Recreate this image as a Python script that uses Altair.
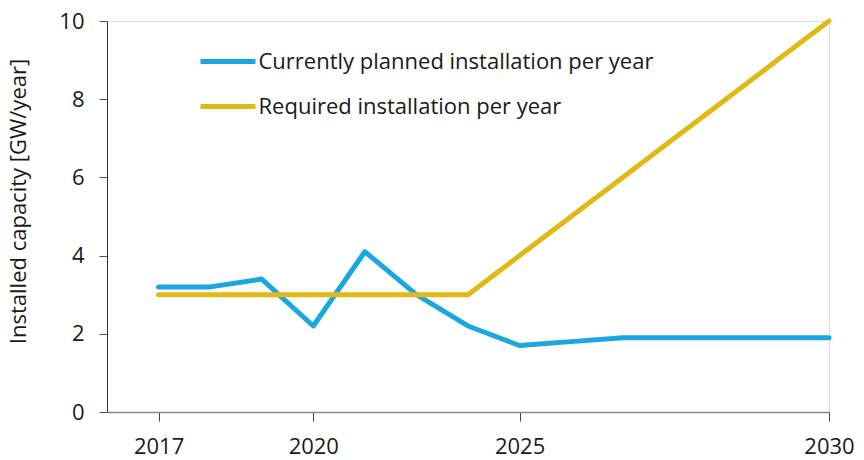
import altair as alt
import pandas as pd

# x positions are evenly spaced steps; only four of them carry a label
steps = list(range(14))
planned = [3.2, 3.2, 3.4, 2.2, 4.1, 3.0, 2.2, 1.7, 1.8, 1.9, 1.9, 1.9, 1.9, 1.9]
required = [3.0, 3.0, 3.0, 3.0, 3.0, 3.0, 3.0, 4.0, 5.0, 6.0, 7.0, 8.0, 9.0, 10.0]
tick_steps = [0, 3, 7, 13]
tick_labels = ["2017", "2020", "2025", "2030"]
series_names = ["Currently planned installation per year", "Required installation per year"]
series_colors = ["#1aa7e0", "#e2b814"]
y_ticks = [0, 2, 4, 6, 8, 10]

rows = []
for name, vals in zip(series_names, [planned, required]):
    for s, v in zip(steps, vals):
        rows.append({"step": s, "value": v, "series": name})
df = pd.DataFrame(rows)

label_expr = " : ".join(
    f"datum.value == {s} ? '{l}'" for s, l in zip(tick_steps, tick_labels)
) + " : ''"

FONT = "Open Sans"
TXT = "#1a1a1a"
FS = 22

chart = alt.Chart(df).mark_line(strokeWidth=5, strokeCap="round", strokeJoin="round").encode(
    x=alt.X("step:Q", scale=alt.Scale(domain=[-1, 13], nice=False, zero=False),
            axis=alt.Axis(values=tick_steps, labelExpr=label_expr, title=None, grid=False,
                          tickSize=9, tickColor="#444", domainColor="#888", domainWidth=1.5,
                          labelFontSize=FS, labelFont=FONT, labelColor=TXT, labelPadding=15,
                          labelFlush=False)),
    y=alt.Y("value:Q", scale=alt.Scale(domain=[0, 10], nice=False),
            axis=alt.Axis(values=y_ticks, title="Installed capacity [GW/year]", grid=False,
                          tickSize=8, tickColor="#555", domainColor="#333", domainWidth=1,
                          labelFontSize=FS, labelFont=FONT, labelColor=TXT, labelPadding=15,
                          titleFontSize=FS, titleFont=FONT, titleColor=TXT, titleFontWeight="normal",
                          titleX=-82, titleY=180, titleAlign="center", titleBaseline="alphabetic",
                          titleAngle=270)),
    color=alt.Color("series:N", scale=alt.Scale(domain=series_names, range=series_colors),
                    legend=alt.Legend(title=None, orient="none", legendX=107.5, legendY=27,
                                      symbolType="M-2.5,0H2.5", symbolSize=484,
                                      symbolStrokeWidth=5, labelFontSize=FS, labelFont=FONT,
                                      labelColor=TXT, labelOffset=17, labelLimit=0,
                                      rowPadding=20, padding=0)),
).properties(
    width=722, height=391,
    autosize=alt.AutoSizeParams(type="none"),
    padding={"left": 99, "top": 13, "right": 27, "bottom": 46},
).configure_view(stroke=None).configure(background="white")

chart.save("out.html", embed_options={"renderer": "svg", "actions": False})
